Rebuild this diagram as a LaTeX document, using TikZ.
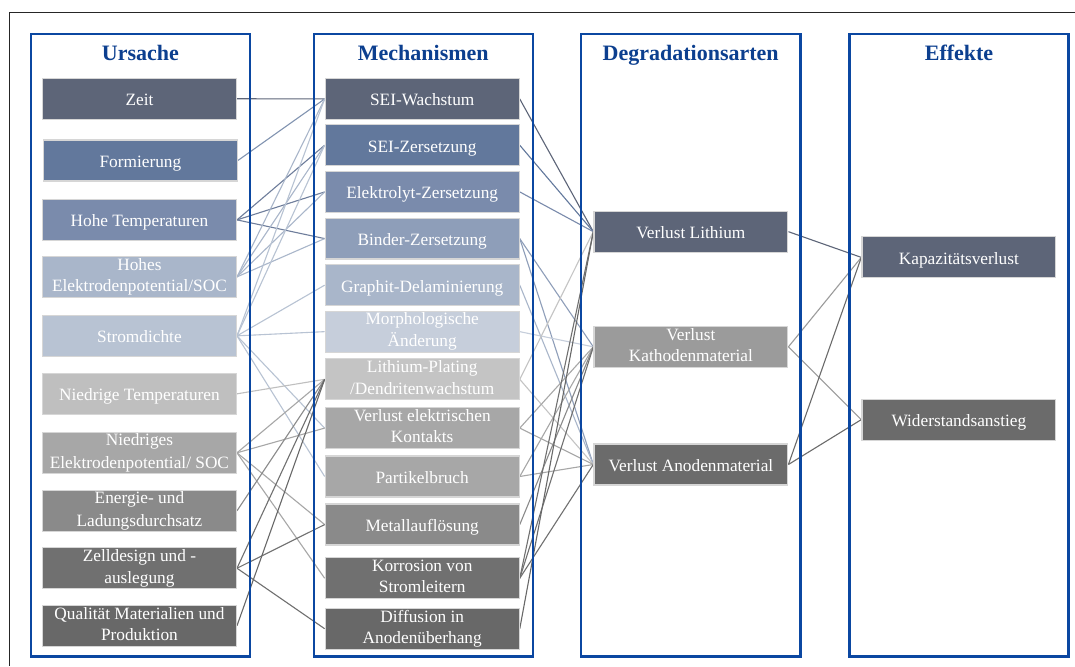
\documentclass[tikz,border=0pt]{standalone}
\usepackage{fontspec}
\setmainfont{Liberation Serif}
\definecolor{colblue}{HTML}{0B47A1}
\definecolor{titleblue}{HTML}{0C3F8F}
\definecolor{boxedge}{HTML}{D6D6D6}
\definecolor{cA}{HTML}{5D6578}
\definecolor{cB}{HTML}{62789C}
\definecolor{cC}{HTML}{7A8BAC}
\definecolor{cD}{HTML}{8E9EB9}
\definecolor{cE}{HTML}{A9B6CA}
\definecolor{cF}{HTML}{B8C3D3}
\definecolor{cG}{HTML}{C6CEDB}
\definecolor{gA}{HTML}{BFBFBF}
\definecolor{gB}{HTML}{C4C4C4}
\definecolor{gC}{HTML}{A7A7A7}
\definecolor{gD}{HTML}{9B9B9B}
\definecolor{gE}{HTML}{8A8A8A}
\definecolor{gF}{HTML}{707070}
\definecolor{gG}{HTML}{686868}
\definecolor{gH}{HTML}{6B6B6B}
\pgfdeclarelayer{paper}
\pgfdeclarelayer{links}
\pgfsetlayers{paper,links,main}
% line strut: fixes the baseline of every text line inside the boxes
\newcommand{\boxstrut}{\rule[-3.5pt]{0pt}{21pt}}
\newcommand{\nl}{\\\boxstrut}
\begin{document}
\begin{tikzpicture}[x=1pt,y=-1pt,
  box/.style={draw=boxedge, line width=1.2pt, minimum width=194pt,
    minimum height=41pt, inner sep=0pt, text=white, align=center,
    font=\fontsize{17.3}{21}\selectfont, execute at begin node=\boxstrut},
  column/.style={draw=colblue, line width=2.3pt},
  coltitle/.style={text=titleblue, anchor=base,
    font=\fontsize{22}{26}\selectfont\bfseries},
  link/.style={line width=1.1pt}]

\begin{pgfonlayer}{paper}
\useasboundingbox (0,0) rectangle (1075,666);
\fill[white] (0,0) rectangle (1075,666);
\end{pgfonlayer}

% outer frame
\draw[line width=1pt, black!85] (9.3,666) -- (9.3,12.3) -- (1075,12.3);

% columns
\draw[column] (31,33.7) rectangle (250,656.7);
\draw[column] (314,33.7) rectangle (533,656.7);
\draw[column] (581.5,33.7) rectangle (801,656.7);
\draw[column] (850,33.7) rectangle (1069,656.7);

\node[coltitle] (t1) at (140.5,61) {Ursache};
\node[coltitle] (t2) at (423.5,61) {Mechanismen};
\node[coltitle] (t3) at (691,61) {Degradationsarten};
\node[coltitle] (t4) at (959.5,61) {Effekte};

% causes
\node[box, fill=cA] (zeit)  at (139.5,98.8)  {Zeit};
\node[box, fill=cB] (form)  at (140.5,160.5) {Formierung};
\node[box, fill=cC] (hoht)  at (139.5,220)   {Hohe Temperaturen};
\node[box, fill=cE] (hohp)  at (139.5,277)   {Hohes\nl Elektrodenpotential/SOC};
\node[box, fill=cF] (strom) at (139.5,336)   {Stromdichte};
\node[box, fill=gA] (nied)  at (139.5,394)   {Niedrige Temperaturen};
\node[box, fill=gC] (niedp) at (139.5,453)   {Niedriges\nl Elektrodenpotential/ SOC};
\node[box, fill=gE] (energ) at (139.5,511)   {Energie- und\nl Ladungsdurchsatz};
\node[box, fill=gF] (zell)  at (139.5,568.5) {Zelldesign und -\nl auslegung};
\node[box, fill=gG] (qual)  at (139.5,626)   {Qualität Materialien und\nl Produktion};

% mechanisms
\node[box, fill=cA] (seiw)  at (422.4,99)    {SEI-Wachstum};
\node[box, fill=cB] (seiz)  at (422.4,145.3) {SEI-Zersetzung};
\node[box, fill=cC] (elek)  at (422.4,192)   {Elektrolyt-Zersetzung};
\node[box, fill=cD] (bind)  at (422.4,238.7) {Binder-Zersetzung};
\node[box, fill=cE] (graph) at (422.4,285.3) {Graphit-Delaminierung};
\node[box, fill=cG] (morph) at (422.4,331.8) {Morphologische\nl Änderung};
\node[box, fill=gB] (plat)  at (422.4,379.5) {Lithium-Plating\nl /Dendritenwachstum};
\node[box, fill=gC] (kont)  at (422.4,428.3) {Verlust elektrischen\nl Kontakts};
\node[box, fill=gC] (part)  at (422.4,476.7) {Partikelbruch};
\node[box, fill=gE] (metal) at (422.4,524.8) {Metallauflösung};
\node[box, fill=gF] (korr)  at (422.4,578.5) {Korrosion von\nl Stromleitern};
\node[box, fill=gG] (diff)  at (422.4,629)   {Diffusion in\nl Anodenüberhang};

% degradation modes
\node[box, fill=cA] (vli)   at (691.2,231.8) {Verlust Lithium};
\node[box, fill=gD] (vka)   at (691.2,347)   {Verlust\nl Kathodenmaterial};
\node[box, fill=gH] (van)   at (691.2,464.7) {Verlust Anodenmaterial};

% effects
\node[box, fill=cA] (kap)   at (959.3,257.5) {Kapazitätsverlust};
\node[box, fill=gH] (wid)   at (959.3,419.8) {Widerstandsanstieg};

\begin{pgfonlayer}{links}
% causes -> mechanisms
\draw[link, cA] (zeit.east) -- (seiw.west);
\draw[link, cB!80!white] (form.east) -- (seiw.west);
\foreach \m in {seiz,elek,bind}
  \draw[link, cC!90!black] (hoht.east) -- (\m.west);
\foreach \m in {seiw,seiz,elek,bind}
  \draw[link, cE] (hohp.east) -- (\m.west);
\foreach \m in {seiw,seiz,graph,morph,kont,part}
  \draw[link, cF] (strom.east) -- (\m.west);
\draw[link, gA] (nied.east) -- (plat.west);
\foreach \m in {plat,kont,metal,korr}
  \draw[link, gC] (niedp.east) -- (\m.west);
\draw[link, gE] (energ.east) -- (plat.west);
\foreach \m in {plat,metal,diff}
  \draw[link, gF] (zell.east) -- (\m.west);
\draw[link, gG] (qual.east) -- (plat.west);

% mechanisms -> degradation modes
\draw[link, cA] (seiw.east) -- (vli.west);
\draw[link, cB] (seiz.east) -- (vli.west);
\draw[link, cC] (elek.east) -- (vli.west);
\draw[link, cD] (bind.east) -- (vka.west);
\draw[link, cD] (bind.east) -- (van.west);
\draw[link, cE] (graph.east) -- (van.west);
\draw[link, cG] (morph.east) -- (vka.west);
\draw[link, gB] (plat.east) -- (vli.west);
\draw[link, gB] (plat.east) -- (van.west);
\draw[link, gC] (kont.east) -- (vka.west);
\draw[link, gC] (kont.east) -- (van.west);
\draw[link, gC] (part.east) -- (vka.west);
\draw[link, gC] (part.east) -- (van.west);
\draw[link, gE] (metal.east) -- (vka.west);
\foreach \d in {vli,vka,van}
  \draw[link, gF] (korr.east) -- (\d.west);
\draw[link, gG] (diff.east) -- (vli.west);

% degradation modes -> effects
\draw[link, cA] (vli.east) -- (kap.west);
\draw[link, gD] (vka.east) -- (kap.west);
\draw[link, gD] (vka.east) -- (wid.west);
\draw[link, gH] (van.east) -- (kap.west);
\draw[link, gH] (van.east) -- (wid.west);
\end{pgfonlayer}
\end{tikzpicture}
\end{document}
